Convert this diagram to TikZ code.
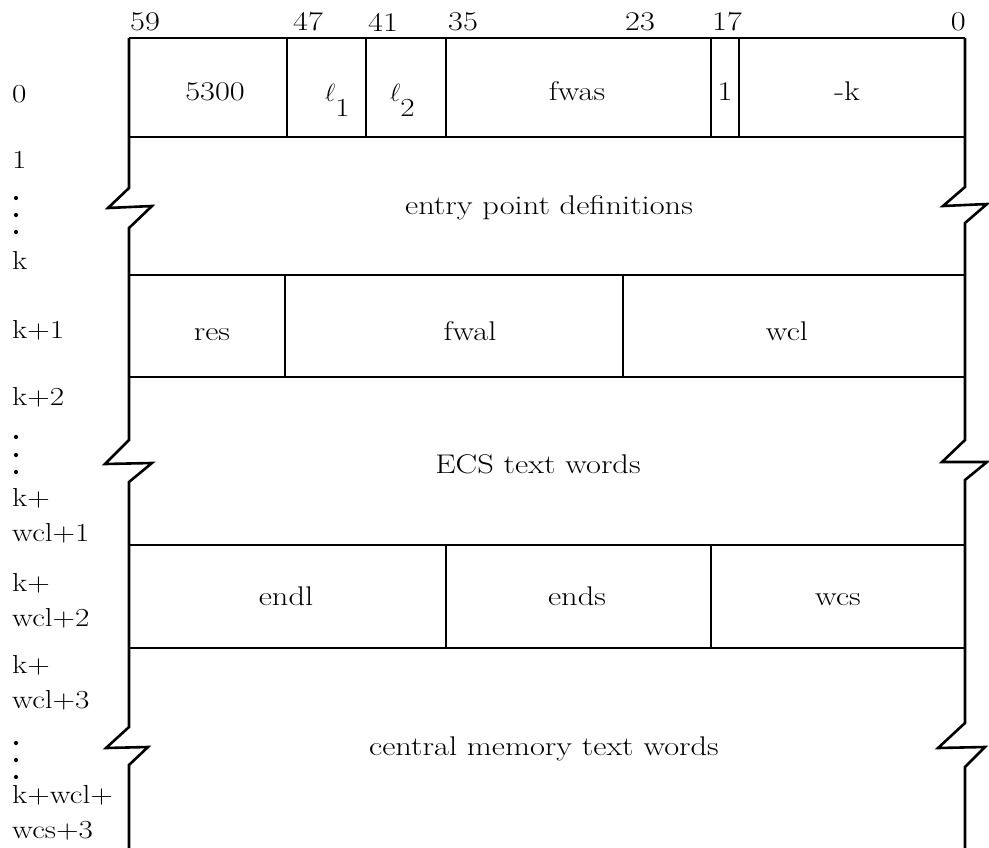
\documentclass[tikz,border=0pt]{standalone}
\usepackage{fontspec}
\setmainfont{Latin Modern Roman}[FakeStretch=1.2]
\begin{document}
\begin{tikzpicture}[x=1pt,y=-1pt,
  rule/.style={line width=2.6pt},
  cell/.style={font=\fontsize{27}{32}\selectfont, inner sep=0pt, text height=0.7em, text depth=0.2em, yshift=-6pt},
  bit/.style={font=\fontsize{27}{32}\selectfont, inner sep=0pt, anchor=west},
  addr/.style={font=\fontsize{26}{35}\selectfont, inner sep=0pt, anchor=west, align=left},
  ell/.style={font=\fontsize{26}{30}\selectfont, inner sep=0pt, anchor=base west},
  dot/.style={fill=black}]
\useasboundingbox (0,0) rectangle (989,847);
\begin{scope}
\clip (0,0) rectangle (989,847);
% outer frame with breaks
\draw[rule] (129,38) -- (129,188) -- (108,208) -- (152,206) -- (129,228) -- (129,440)
  -- (105,464) -- (152,463) -- (129,482) -- (129,727) -- (106,748) -- (148,747) -- (129,765) -- (129,850);
\draw[rule] (965,38) -- (965,187) -- (943,206) -- (987,204) -- (965,223) -- (965,440)
  -- (942,462) -- (987,462) -- (965,480) -- (965,723) -- (938,748) -- (985,747) -- (965,767) -- (965,850);
% horizontal rules
\foreach \y in {38,137,275,377,545,648} \draw[rule] (129,\y) -- (965,\y);
% row 0 dividers
\foreach \x in {287,366,446,711,739} \draw[rule] (\x,38) -- (\x,137);
% row k+1 dividers
\foreach \x in {285,623} \draw[rule] (\x,275) -- (\x,377);
% row k+wcl+2 dividers
\foreach \x in {446,711} \draw[rule] (\x,545) -- (\x,648);
\end{scope}
% bit numbers
\node[bit] (b59) at (130,22) {59};
\node[bit] (b47) at (293,22) {47};
\node[bit] (b41) at (368,22) {41};
\node[bit] (b35) at (448,22) {35};
\node[bit] (b23) at (625,22) {23};
\node[bit] (b17) at (712,22) {17};
\node[bit, anchor=east] (b0) at (966,22) {0};
% row 0 fields
\node[cell] (f5300) at (215,92) {5300};
\node[ell] (fl1) at (325,101) {$\ell$\raisebox{-15pt}{1}};
\node[ell] (fl2) at (390,101) {$\ell$\raisebox{-15pt}{2}};
\node[cell] (ffwas) at (577,92) {fwas};
\node[cell] (fone) at (725,92) {1};
\node[cell] (fk) at (847,92) {-k};
% blocks
\node[cell] (entry) at (549,206) {entry point definitions};
\node[cell] (res) at (212,332) {res};
\node[cell] (fwal) at (470,332) {fwal};
\node[cell] (wcl) at (787,332) {wcl};
\node[cell] (ecs) at (538,465) {ECS text words};
\node[cell] (endl) at (286,597) {endl};
\node[cell] (ends) at (577,597) {ends};
\node[cell] (wcs) at (838,597) {wcs};
\node[cell] (cm) at (544,747) {central memory text words};
% addresses
\node[addr] (a0) at (12,94) {0};
\node[addr] (a1) at (12,160) {1};
\foreach \y in {198,215,232} \fill[dot] (16,\y) circle (2.1);
\node[addr] (ak) at (12,260) {k};
\node[addr] (ak1) at (12,330) {k+1};
\node[addr] (ak2) at (12,397) {k+2};
\foreach \y in {437,455,472} \fill[dot] (16,\y) circle (2.1);
\node[addr] (awcl1) at (12,516) {k+\\wcl+1};
\node[addr] (awcl2) at (12,601) {k+\\wcl+2};
\node[addr] (awcl3) at (12,683) {k+\\wcl+3};
\foreach \y in {743,760,777} \fill[dot] (16,\y) circle (2.1);
\node[addr] (awcs3) at (12,813) {k+wcl+\\wcs+3};
\end{tikzpicture}
\end{document}
